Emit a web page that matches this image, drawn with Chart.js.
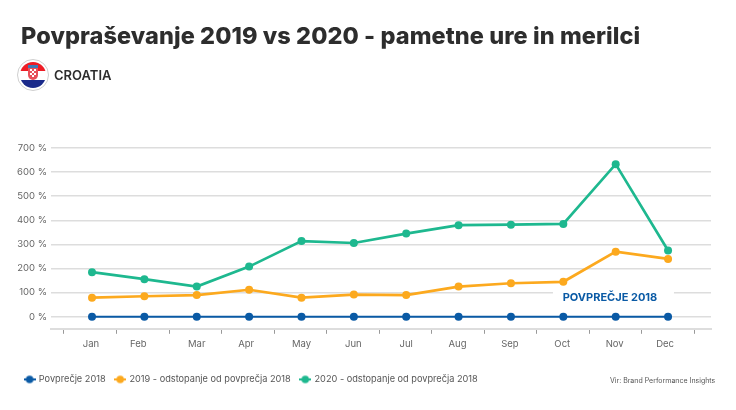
<!DOCTYPE html>
<html><head><meta charset="utf-8">
<script src="https://cdn.jsdelivr.net/npm/chart.js@4"></script>
<style>
html,body{margin:0;padding:0;background:#fff;width:736px;height:410px;overflow:hidden}
#wrap{position:relative;width:736px;height:410px}
canvas{position:absolute;left:0;top:0}
.t{position:absolute;font-family:Inter,sans-serif;white-space:nowrap}
</style></head><body>
<div id="wrap">
<canvas id="c" width="736" height="410"></canvas>
<div class="t" style="left:21px;top:21px;font-size:23.5px;font-weight:800;color:#2d2d2d;letter-spacing:.08px">Povpraševanje 2019 vs 2020 - pametne ure in merilci</div>
<svg style="position:absolute;left:17px;top:59px" width="32" height="32" viewBox="0 0 32 32">
<defs><clipPath id="f"><circle cx="16" cy="16" r="13"/></clipPath></defs>
<circle cx="16" cy="16" r="15.5" fill="#fff" stroke="#cfcfcf"/>
<g clip-path="url(#f)"><rect y="0" width="32" height="12" fill="#ee1c25"/><rect y="12" width="32" height="9" fill="#fff"/><rect y="21" width="32" height="11" fill="#1a2a8a"/>
<rect x="11" y="6" width="10" height="3" fill="#3d7ab8"/><path d="M11 9h10v7a5 5 0 0 1-10 0z" fill="#e8505a"/><path d="M13 10h2v2h-2zM17 10h2v2h-2zM15 12h2v2h-2zM13 14h2v2h-2zM17 14h2v2h-2zM15 16h2v2h-2z" fill="#fff"/></g>
</svg>
<div class="t" style="left:54px;top:67px;font-size:13px;font-weight:600;color:#2d2d2d">CROATIA</div>
<div class="t" style="left:610px;top:375.5px;font-size:7px;color:#555">Vir: Brand Performance Insights</div>
</div>
<script>
const months=['Jan','Feb','Mar','Apr','May','Jun','Jul','Aug','Sep','Oct','Nov','Dec'];
const avg2018=[0,0,0,0,0,0,0,0,0,0,0,0];
const dev2019=[79,85,90,112,79,92,90,125,139,145,270,240];
const dev2020=[185,156,125,208,314,306,345,380,382,385,633,275];
const yTicks=[-50,0,100,200,300,400,500,600,700];
const labelNudge=[-0.02,-0.115,0,-0.057,0,-0.01,0,-0.02,-0.02,-0.02,-0.02,-0.057];
const seriesNames=['Povprečje 2018','2019 - odstopanje od povprečja 2018','2020 - odstopanje od povprečja 2018'];
const seriesColors=['#0a5aa5','#fca91e','#1eb88f'];
const seriesValues=[avg2018,dev2019,dev2020];
const FONT='Inter';
function marker(col){const c=document.createElement('canvas');c.width=12;c.height=10;const x=c.getContext('2d');
 x.strokeStyle=col;x.lineWidth=2;x.beginPath();x.moveTo(0,5);x.lineTo(12,5);x.stroke();x.fillStyle=col;x.beginPath();x.arc(6,5,3.8,0,7);x.fill();return c;}
const calloutPlugin={id:'callout',beforeDatasetsDraw(ch){const {ctx,scales:{x,y}}=ch;
 const cx=x.getPixelForValue(9.94),cy=y.getPixelForValue(100);
 ctx.save();ctx.fillStyle='#fff';ctx.fillRect(cx-59.6,cy-3,121,18);
 ctx.fillStyle='#0a5aa5';ctx.font='700 11px '+FONT;ctx.textAlign='center';ctx.textBaseline='middle';
 ctx.fillText('POVPREČJE 2018',cx-2.6,cy+5.5);ctx.restore();}};
const tickMarks=[];for(let k=0;k<13;k++)tickMarks.push(-0.535+1.0033*k);
new Chart(document.getElementById('c'),{type:'line',
 data:{datasets:seriesNames.map((n,i)=>({label:n,data:seriesValues[i].map((v,j)=>({x:j,y:v})),borderColor:seriesColors[i],backgroundColor:seriesColors[i],
   borderWidth:i==0?2:2.7,pointRadius:4,pointHoverRadius:4,pointBorderWidth:0,tension:0,clip:false,order:3-i}))},
 plugins:[calloutPlugin],
 options:{responsive:false,animation:false,devicePixelRatio:1,
  layout:{padding:{left:15,right:25,top:148,bottom:16}},
  plugins:{tooltip:{enabled:false},title:{display:false},
   legend:{position:'bottom',align:'start',labels:{color:'#555',font:{family:FONT,size:9.2},usePointStyle:true,padding:10,boxWidth:12,
     generateLabels:ch=>seriesNames.map((n,i)=>({text:n,pointStyle:marker(seriesColors[i]),fillStyle:seriesColors[i],strokeStyle:seriesColors[i],lineWidth:0,datasetIndex:i,fontColor:'#555'}))}}},
  scales:{
   x:{type:'linear',position:'bottom',min:-0.783,max:11.82,weight:0,
     afterBuildTicks:s=>{s.ticks=tickMarks.map(v=>({value:v}));},
     afterFit:s=>{s.height=6;},
     ticks:{display:false},
     grid:{drawOnChartArea:false,drawTicks:true,tickLength:5,color:'#999',lineWidth:1},
     border:{display:true,color:'#ddd',width:2}},
   x2:{type:'linear',position:'bottom',min:-0.783,max:11.82,weight:1,
     afterBuildTicks:s=>{s.ticks=months.map((m,i)=>({value:i+labelNudge[i]}));},
     afterFit:s=>{s.height=30;},
     grid:{display:false,drawTicks:false},border:{display:false},
     ticks:{autoSkip:false,maxRotation:0,minRotation:0,padding:4,color:'#666',font:{family:FONT,size:9.5},
       callback:(v,i)=>months[i]}},
   y:{type:'linear',min:-50,max:700,
     afterBuildTicks:s=>{s.ticks=yTicks.map(v=>({value:v}));},
     afterFit:s=>{s.width=36;},
     ticks:{color:'#666',padding:4,font:{family:FONT,size:9.5},callback:v=>v<0?'':v+' %'},
     grid:{color:'#ddd',lineWidth:1.5,drawTicks:false},border:{display:false}}
  }}});
</script>
</body></html>
